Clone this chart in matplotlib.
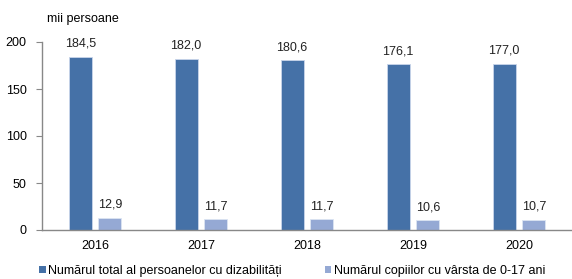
import matplotlib
matplotlib.use("Agg")
import matplotlib.pyplot as plt
import numpy as np
from matplotlib.patches import Patch

years = ["2016", "2017", "2018", "2019", "2020"]
total = [184.5, 182.0, 180.6, 176.1, 177.0]
children = [12.9, 11.7, 11.7, 10.6, 10.7]
series_names = ["Numărul total al persoanelor cu dizabilități",
                "Numărul copiilor cu vârsta de 0-17 ani"]
unit_label = "mii persoane"

plt.rcParams['font.family'] = ['Liberation Sans', 'DejaVu Sans']
fs = 9

fig = plt.figure(figsize=(5.72, 2.79), dpi=100)
ax = fig.add_axes([42/572, 1-230/279, 530/572, 188/279])

x = np.arange(len(years))
w = 0.215
off = 0.14
dark = '#4571A7'
light = '#95A9D4'
b1 = ax.bar(x - off, total, w, color=dark, edgecolor='#C9D5EA', linewidth=0.6)
b2 = ax.bar(x + off, children, w, color=light, edgecolor='#DCE4F2', linewidth=0.6)

def fmt(v):
    return f"{v:.1f}".replace('.', ',')

for bars, vals in ((b1, total), (b2, children)):
    for r, v in zip(bars, vals):
        ax.annotate(fmt(v), (r.get_x() + r.get_width()/2, v), xytext=(0, 5),
                    textcoords='offset points', ha='center', va='bottom',
                    fontsize=fs, color='#222222')

ax.set_xlim(-0.5, len(years) - 0.5)
ax.set_ylim(0, 200)
ax.set_yticks([0, 50, 100, 150, 200])
ax.set_xticks(x)
ax.set_xticklabels(years, fontsize=fs)
ax.tick_params(axis='x', length=0, pad=7)
ax.tick_params(axis='y', length=4, color='#888888', labelsize=fs, pad=7, width=0.8)
for s in ('top', 'right'):
    ax.spines[s].set_visible(False)
for s in ('left', 'bottom'):
    ax.spines[s].set_color('#888888')
    ax.spines[s].set_linewidth(1.0)

fig.text(47/572, 1-19/279, unit_label, fontsize=fs, va='center', ha='left')

handles = [Patch(facecolor=dark, edgecolor='none'), Patch(facecolor=light, edgecolor='none')]
fig.legend(handles, series_names, loc='center left', bbox_to_anchor=(39/572, 1-271/279),
           ncol=2, frameon=False, fontsize=fs, handlelength=0.55, handleheight=0.55,
           handletextpad=0.2, columnspacing=3.4, borderaxespad=0, borderpad=0)

fig.savefig("out.png", dpi=100)
